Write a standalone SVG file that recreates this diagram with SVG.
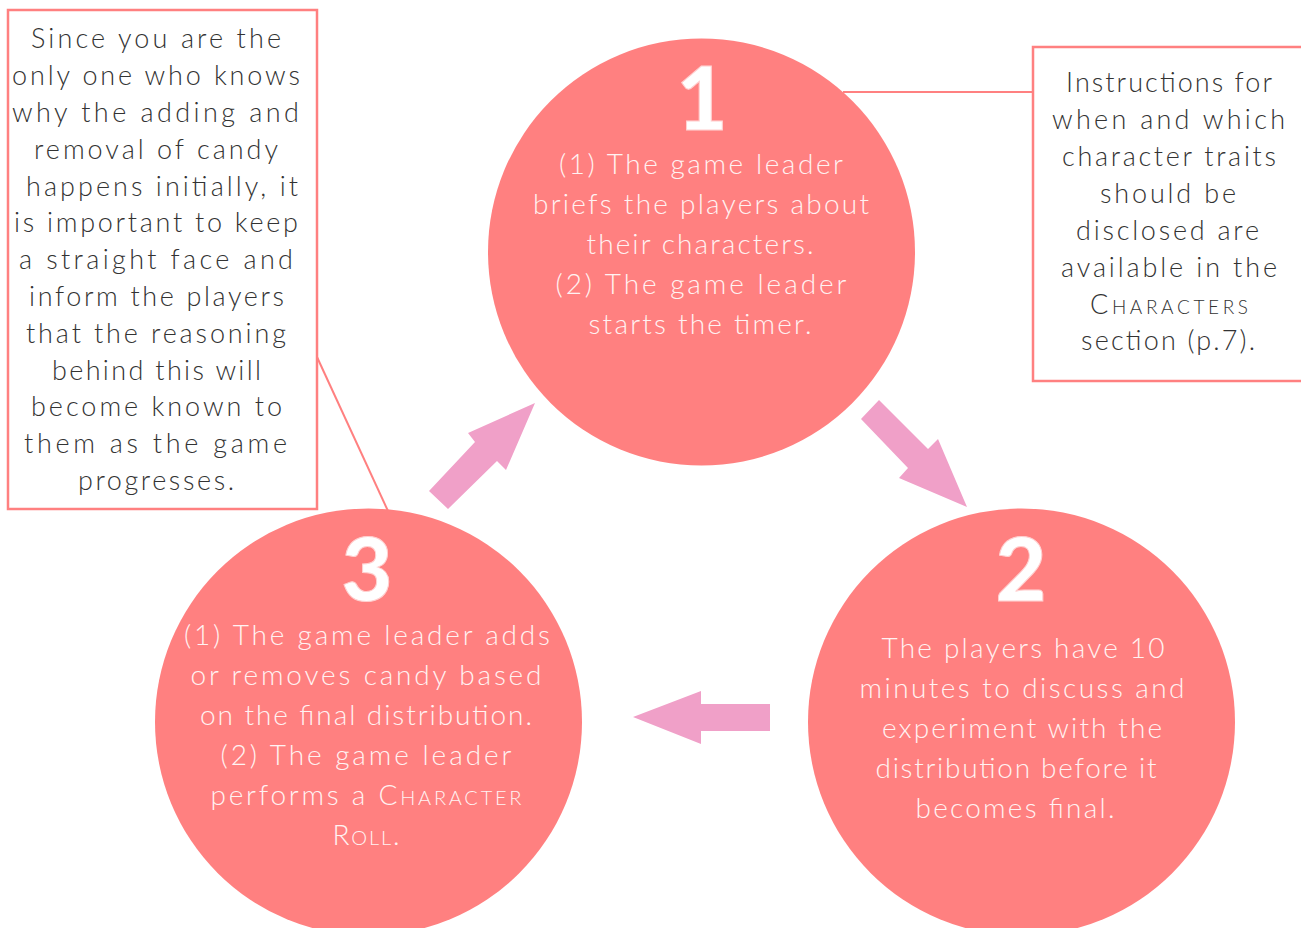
<svg xmlns="http://www.w3.org/2000/svg" width="1301" height="928" viewBox="0 0 1301 928">
<style>
.circ{fill:#FF8080}
.box{fill:#FFFFFF;stroke:#FF8080;stroke-width:2.5}
.conn{stroke:#FF8080;stroke-width:2;fill:none}
.arrow{fill:#F0A0C8}
.ct{font-family:Lato,"Open Sans","Liberation Sans",sans-serif;font-weight:300;font-size:28px;fill:#FFF2F2;text-anchor:middle}
.bt{font-family:Lato,"Open Sans","Liberation Sans",sans-serif;font-weight:300;font-size:27px;fill:#333333;text-anchor:middle}
.num{font-family:Lato,"DejaVu Sans",sans-serif;font-weight:900;font-size:88px;fill:#FFFFFF;stroke:#FFD0D0;stroke-width:1;text-anchor:middle}
.sc{font-variant:small-caps}
</style>
<rect width="1301" height="928" fill="#FFFFFF"/>
<g id="connectors">
<line class="conn" x1="843" y1="92" x2="1033" y2="92"/>
<line class="conn" x1="317" y1="357" x2="388" y2="511"/>
<polygon class="arrow" points="879,400 928,449 938,439 967,507 899,478 908,468 861,419"/>
<polygon class="arrow" points="770,704 701,704 701,691 633,717 701,744 701,731 770,731"/>
<polygon class="arrow" points="429,491 475,442 468,433 535,403 506,470 497,461 448,509"/>
</g>
<g id="node1">
<circle class="circ" cx="701.5" cy="252" r="213.5"/>
<text class="num" x="702" y="130">1</text>
<text class="ct" x="701" y="174" textLength="284" lengthAdjust="spacing">(1) The game leader</text>
<text class="ct" x="701" y="214" textLength="336" lengthAdjust="spacing">briefs the players about</text>
<text class="ct" x="700" y="254" textLength="227" lengthAdjust="spacing">their characters.</text>
<text class="ct" x="701" y="294" textLength="291" lengthAdjust="spacing">(2) The game leader</text>
<text class="ct" x="700" y="334" textLength="223" lengthAdjust="spacing">starts the timer.</text>
</g>
<g id="node2">
<circle class="circ" cx="1021.5" cy="722" r="213.5"/>
<text class="num" x="1021" y="601">2</text>
<text class="ct" x="1023" y="658" textLength="283" lengthAdjust="spacing">The players have 10</text>
<text class="ct" x="1022" y="698" textLength="325" lengthAdjust="spacing">minutes to discuss and</text>
<text class="ct" x="1022" y="738" textLength="280" lengthAdjust="spacing">experiment with the</text>
<text class="ct" x="1016" y="778" textLength="281" lengthAdjust="spacing">distribution before it</text>
<text class="ct" x="1015" y="818" textLength="199" lengthAdjust="spacing">becomes final.</text>
</g>
<g id="node3">
<circle class="circ" cx="368.5" cy="722" r="213.5"/>
<text class="num" x="367" y="601">3</text>
<text class="ct" x="367" y="645" textLength="366" lengthAdjust="spacing">(1) The game leader adds</text>
<text class="ct" x="366" y="685" textLength="351" lengthAdjust="spacing">or removes candy based</text>
<text class="ct" x="366" y="725" textLength="332" lengthAdjust="spacing">on the final distribution.</text>
<text class="ct" x="366" y="765" textLength="291" lengthAdjust="spacing">(2) The game leader</text>
<text class="ct" x="366" y="805" textLength="311" lengthAdjust="spacing">performs a <tspan class="sc">Character</tspan></text>
<text class="ct sc" x="366" y="845" textLength="67" lengthAdjust="spacing">Roll.</text>
</g>
<g id="note-left">
<rect class="box" x="8" y="10" width="309" height="499"/>
<text class="bt" x="156" y="48" textLength="250" lengthAdjust="spacing">Since you are the</text>
<text class="bt" x="156" y="85" textLength="288" lengthAdjust="spacing">only one who knows</text>
<text class="bt" x="155.5" y="122" textLength="287" lengthAdjust="spacing">why the adding and</text>
<text class="bt" x="156" y="159" textLength="244" lengthAdjust="spacing">removal of candy</text>
<text class="bt" x="162" y="196" textLength="272" lengthAdjust="spacing">happens initially, it</text>
<text class="bt" x="156" y="232" textLength="284" lengthAdjust="spacing">is important to keep</text>
<text class="bt" x="156" y="269" textLength="274" lengthAdjust="spacing">a straight face and</text>
<text class="bt" x="156.5" y="306" textLength="255" lengthAdjust="spacing">inform the players</text>
<text class="bt" x="156" y="343" textLength="260" lengthAdjust="spacing">that the reasoning</text>
<text class="bt" x="156.5" y="380" textLength="209" lengthAdjust="spacing">behind this will</text>
<text class="bt" x="156.5" y="416" textLength="251" lengthAdjust="spacing">become known to</text>
<text class="bt" x="155.5" y="453" textLength="263" lengthAdjust="spacing">them as the game</text>
<text class="bt" x="156" y="490" textLength="156" lengthAdjust="spacing">progresses.</text>
</g>
<g id="note-right">
<rect class="box" x="1033" y="47" width="280" height="334"/>
<text class="bt" x="1169" y="92" textLength="206" lengthAdjust="spacing">Instructions for</text>
<text class="bt" x="1168.5" y="129" textLength="233" lengthAdjust="spacing">when and which</text>
<text class="bt" x="1169" y="166" textLength="214" lengthAdjust="spacing">character traits</text>
<text class="bt" x="1168" y="203" textLength="136" lengthAdjust="spacing">should be</text>
<text class="bt" x="1167.5" y="240" textLength="183" lengthAdjust="spacing">disclosed are</text>
<text class="bt" x="1169" y="277" textLength="216" lengthAdjust="spacing">available in the</text>
<text class="bt sc" x="1169" y="314" textLength="158" lengthAdjust="spacing">Characters</text>
<text class="bt" x="1168" y="350" textLength="174" lengthAdjust="spacing">section (p.7).</text>
</g>
</svg>
